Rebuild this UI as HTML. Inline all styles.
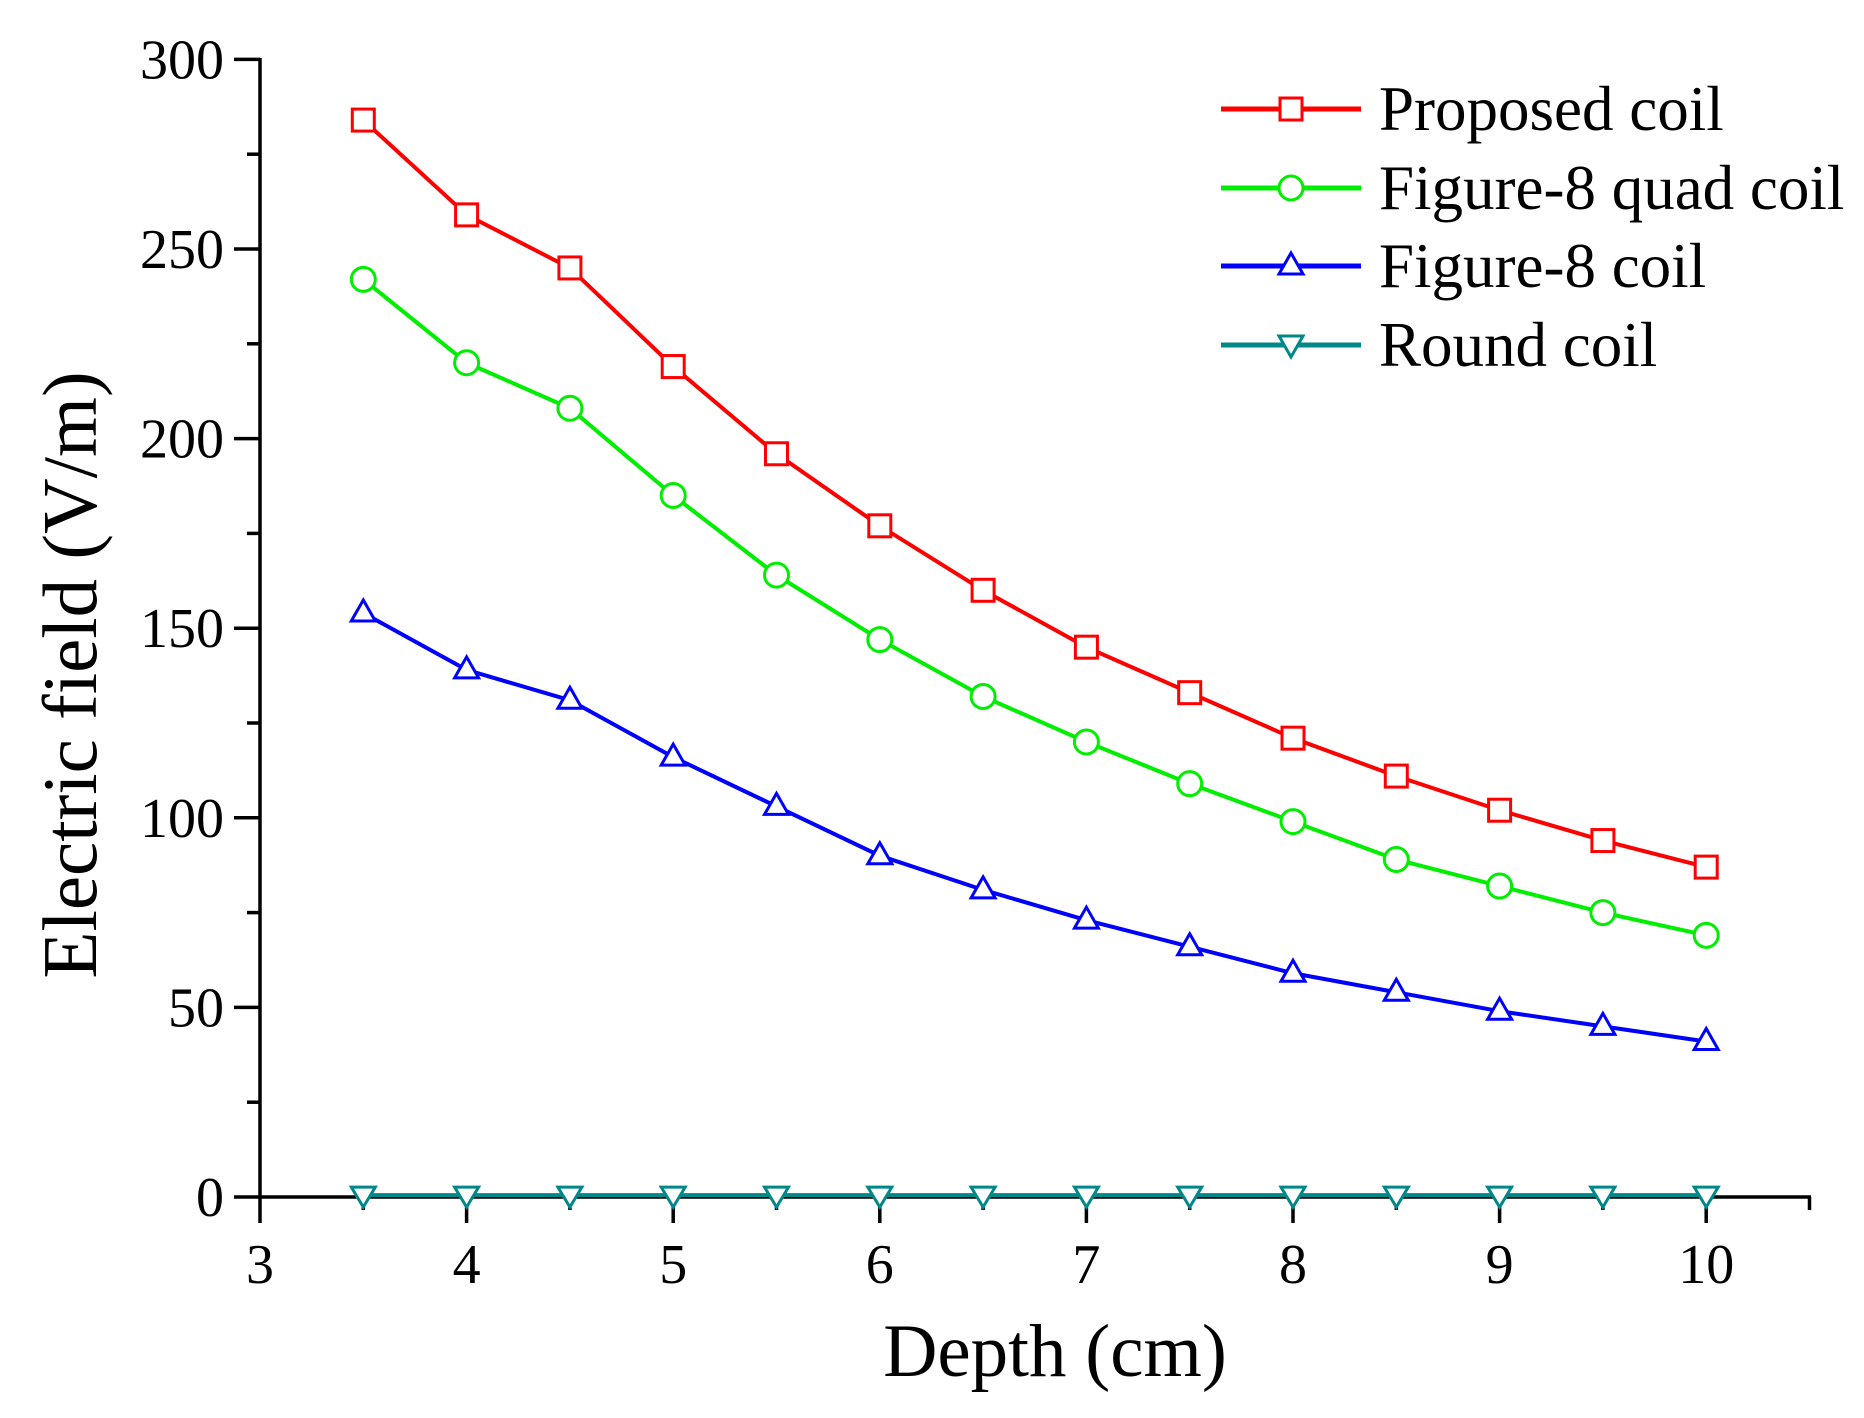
<!DOCTYPE html>
<html><head><meta charset="utf-8"><style>body{margin:0;background:#fff}svg{display:block}</style></head>
<body>
<svg width="1864" height="1418" xmlns="http://www.w3.org/2000/svg" font-family="Liberation Serif, serif">
<g stroke="#000" stroke-width="3.5" fill="none">
<line x1="260" y1="58" x2="260" y2="1198"/>
<line x1="259" y1="1197" x2="1811" y2="1197"/>
</g>
<g id="ax"></g>
<g id="series"></g>
<text x="96" y="675" font-size="77" text-anchor="middle" transform="rotate(-90 96 675)">Electric field (V/m)</text>
<text x="1055" y="1376" font-size="75" text-anchor="middle">Depth (cm)</text>
<g font-size="63">
<line x1="1221" y1="109" x2="1361" y2="109" stroke="#f00" stroke-width="5"/><rect x="1280" y="98" width="22" height="22" fill="#fff" stroke="#f00" stroke-width="3"/><text x="1379" y="130">Proposed coil</text>
<line x1="1221" y1="188" x2="1361" y2="188" stroke="#0e0" stroke-width="5"/><circle cx="1291" cy="188" r="12" fill="#fff" stroke="#0e0" stroke-width="3"/><text x="1379" y="209">Figure-8 quad coil</text>
<line x1="1221" y1="266" x2="1361" y2="266" stroke="#00f" stroke-width="5"/><polygon points="1291,253 1303,274 1279,274" fill="#fff" stroke="#00f" stroke-width="3"/><text x="1379" y="287">Figure-8 coil</text>
<line x1="1221" y1="345" x2="1361" y2="345" stroke="#088" stroke-width="5"/><polygon points="1279,336 1303,336 1291,357" fill="#fff" stroke="#088" stroke-width="3"/><text x="1379" y="366">Round coil</text>
</g>
<script>
const NS="http://www.w3.org/2000/svg";
const X=v=>260+(v-3)*206.6, Y=v=>1197-v*3.792;
const ax=document.getElementById('ax');
function el(t,a,p,txt){const e=document.createElementNS(NS,t);for(const k in a)e.setAttribute(k,a[k]);if(txt!==undefined)e.textContent=txt;(p||ax).appendChild(e);return e;}
for(let v=0;v<=300;v+=25){const y=Y(v),maj=v%50==0;el('line',{x1:260-(maj?26:13),y1:y,x2:260,y2:y,stroke:'#000','stroke-width':3.5});
if(maj)el('text',{x:224,y:y+19,'font-size':56,'text-anchor':'end'},ax,v);}
for(let v=3;v<=10.5;v+=0.5){const x=X(v),maj=v%1==0;el('line',{x1:x,y1:1197,x2:x,y2:1197+(maj?26:13),stroke:'#000','stroke-width':3.5});
if(maj)el('text',{x:x,y:1283,'font-size':56,'text-anchor':'middle'},ax,v);}
const xs=[];for(let v=3.5;v<=10.01;v+=0.5)xs.push(v);
const data=[
['#f00','s',[284,259,245,219,196,177,160,145,133,121,111,102,94,87]],
['#0e0','c',[242,220,208,185,164,147,132,120,109,99,89,82,75,69]],
['#00f','t',[154,139,131,116,103,90,81,73,66,59,54,49,45,41]],
['#088','d',xs.map(()=>0.5)]];
const sg=document.getElementById('series');
for(const [c,m,d] of data){
el('polyline',{points:d.map((v,i)=>X(xs[i])+','+Y(v)).join(' '),fill:'none',stroke:c,'stroke-width':4},sg);
d.forEach((v,i)=>{const x=X(xs[i]),y=Y(v),a={fill:'#fff',stroke:c,'stroke-width':3};
if(m=='s')el('rect',Object.assign({x:x-11,y:y-11,width:22,height:22},a),sg);
else if(m=='c')el('circle',Object.assign({cx:x,cy:y,r:12},a),sg);
else if(m=='t')el('polygon',Object.assign({points:`${x},${y-13} ${x+12},${y+8} ${x-12},${y+8}`},a),sg);
else el('polygon',Object.assign({points:`${x-12},${y-8} ${x+12},${y-8} ${x},${y+12}`},a),sg);});}
</script>
</svg>
</body></html>
